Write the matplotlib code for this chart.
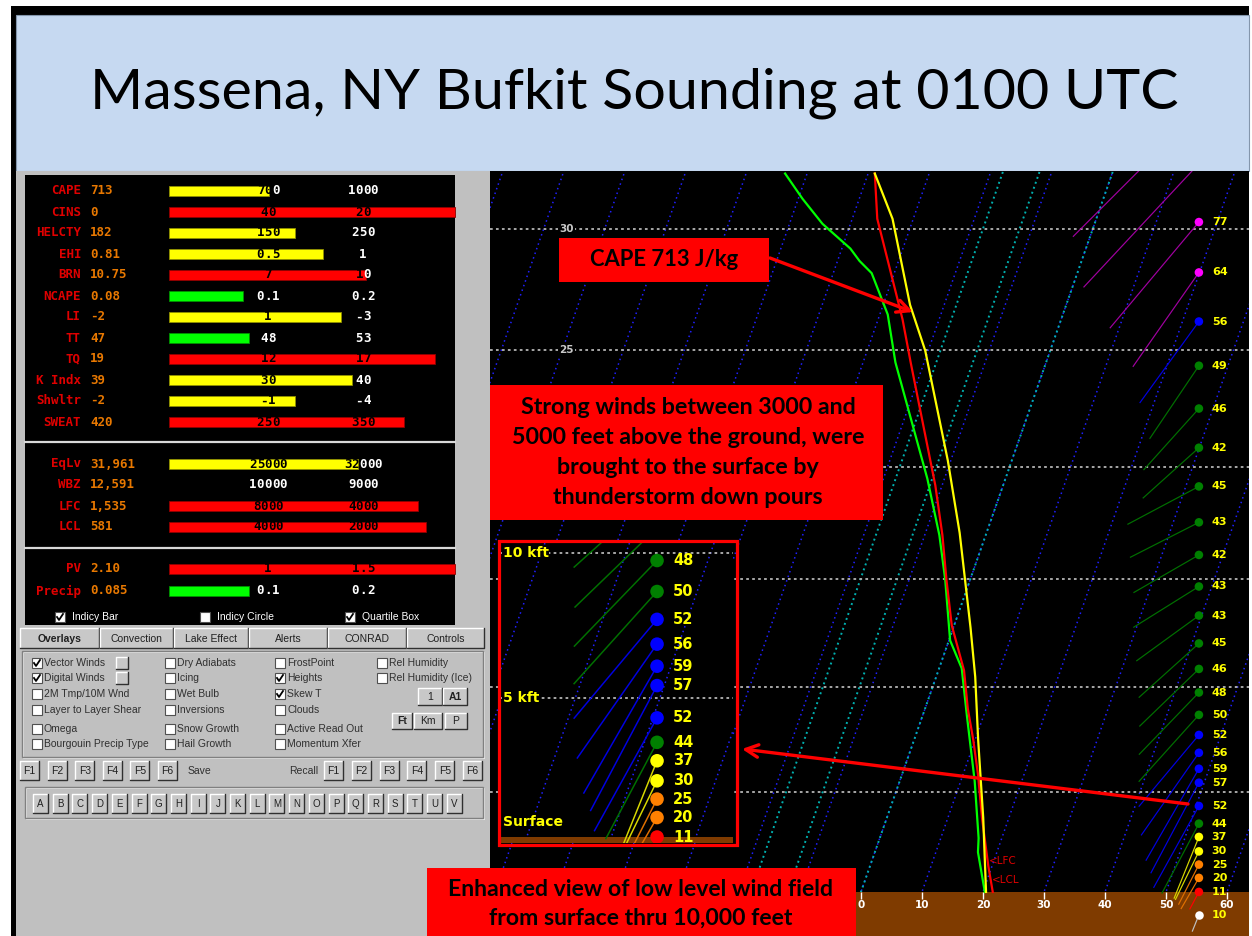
import numpy as np
import matplotlib
matplotlib.use('Agg')
import matplotlib.pyplot as plt
from matplotlib.patches import Rectangle
from matplotlib.transforms import blended_transform_factory

# ---- sounding (height kft AGL, deg C) ----
temp_hgt = [0, 1.3, 3.7, 5.8, 7.5, 9.0, 10.8, 12.9, 15.0, 17.0, 19.2, 24.5, 26.3, 27.1, 30.4, 32.2]
temp_c = [21.6, 19.4, 15.6, 12.5, 9.7, 7.0, 4.2, -0.4, -3.9, -7.1, -11.1, -22.2, -26.0, -27.9, -35.9, -38.9]
dwpt_hgt = [0, 2.0, 2.7, 5.5, 8.7, 10.9, 12.2, 15.0, 17.0, 19.5, 24.5, 26.5, 28.2, 28.7, 29.2, 30.2, 31.2, 32.2]
dwpt_c = [20.3, 16.9, 16.2, 12.3, 7.2, 3.7, 0.2, -4.1, -7.6, -12.8, -24.7, -28.7, -33.7, -36.4, -38.6, -44.6, -49.3, -53.6]
parcel_hgt = [0, 3.7, 7.5, 10.5, 12.8, 17.1, 20.3, 25.0, 26.9, 30.4, 32.2]
parcel_c = [20.5, 15.8, 10.5, 6.4, 2.8, -4.4, -10.5, -20.5, -25.6, -33.4, -38.9]
lfc_ft = 1535
lcl_ft = 581

# ---- winds (kft, kt, deg) ----
wind_hgt = [34.65, 32.59, 30.27, 28.23, 26.21, 24.36, 22.54, 20.85, 19.16, 17.57, 16.11, 14.68, 13.35,
            12.06, 10.87, 9.76, 8.70, 7.74, 6.88, 6.11, 5.43, 4.29, 3.42, 2.76, 2.04, 1.38, 0.71, 0.0]
wind_spd = [99, 94, 77, 64, 56, 49, 46, 42, 45, 43, 42, 43, 43,
            45, 46, 48, 50, 52, 56, 59, 57, 52, 44, 37, 30, 25, 20, 11]
wind_dir = [225, 223, 220, 215, 216, 214, 222, 228, 242, 243, 240, 238, 234,
            228, 226, 224, 222, 220, 215, 210, 208, 209, 208, 202, 206, 207, 210, 208]
sfc_hgt = [-1.17]
sfc_spd = [10]
sfc_dir = [202]

height_lines = [5, 10, 15, 20, 25, 30]
temp_ticks = [0, 10, 20, 30, 40, 50, 60]
isotherms = list(range(-110, 70, 10))
dgz_isotherms = [-18, -12, 0]

# ---- indices panel ----
sec1_names = ['CAPE', 'CINS', 'HELCTY', 'EHI', 'BRN', 'NCAPE', 'LI', 'TT', 'TQ', 'K Indx', 'Shwltr', 'SWEAT']
sec1_vals = ['713', '0', '182', '0.81', '10.75', '0.08', '-2', '47', '19', '39', '-2', '420']
sec1_bars = [35, 100, 44, 54, 69, 26, 60, 28, 93, 64, 44, 82]
sec1_cols = ['y', 'r', 'y', 'y', 'r', 'g', 'y', 'g', 'r', 'y', 'y', 'r']
sec1_lo = ['700', '40', '150', '0.5', '7', '0.1', '1', '48', '12', '30', '-1', '250']
sec1_hi = ['1000', '20', '250', '1', '10', '0.2', '-3', '53', '17', '40', '-4', '350']

sec2_names = ['EqLv', 'WBZ', 'LFC', 'LCL']
sec2_vals = ['31,961', '12,591', '1,535', '581']
sec2_bars = [66, 0, 87, 90]
sec2_cols = ['y', 'r', 'r', 'r']
sec2_lo = ['25000', '10000', '8000', '4000']
sec2_hi = ['32000', '9000', '4000', '2000']

sec3_names = ['PV', 'Precip']
sec3_vals = ['2.10', '0.085']
sec3_bars = [100, 28]
sec3_cols = ['r', 'g']
sec3_lo = ['1', '0.1']
sec3_hi = ['1.5', '0.2']

tabs = ['Overlays', 'Convection', 'Lake Effect', 'Alerts', 'CONRAD', 'Controls']
opt_cols = [['Vector Winds', 'Digital Winds', '2M Tmp/10M Wnd', 'Layer to Layer Shear', 'Omega', 'Bourgouin Precip Type'],
            ['Dry Adiabats', 'Icing', 'Wet Bulb', 'Inversions', 'Snow Growth', 'Hail Growth'],
            ['FrostPoint', 'Heights', 'Skew T', 'Clouds', 'Active Read Out', 'Momentum Xfer'],
            ['Rel Humidity', 'Rel Humidity (Ice)']]
opt_checked = [[1, 1, 0, 0, 0, 0], [0, 0, 0, 0, 0, 0], [0, 1, 1, 0, 0, 0], [0, 0]]
letters = list('ABCDEFGHIJKLMNOPQRSTUV')

W, H = 1252, 936
SKEW = 31.3
BAR_X0, BAR_W = 169, 286
BAR_COL = {'y': '#ffff00', 'r': '#ff0000', 'g': '#00ff00'}
BAR_EDGE = {'y': '#909000', 'r': '#900000', 'g': '#009000'}
GROUND = '#7f3b00'
MONO_FS = 9
CW = 0.6021 * MONO_FS * 100 / 72  # advance of one monospace char in px


def hgt_to_y(h):
    h = np.asarray(h, dtype=float)
    return -5.25588 * np.log(np.clip(1 - h / 145.44, 1e-6, None))


def y_to_hgt(y):
    return 145.44 * (1 - np.exp(-np.asarray(y, dtype=float) / 5.25588))


def skew(t, h):
    return np.asarray(t, dtype=float) + SKEW * hgt_to_y(h)


def dot_col(s):
    if s <= 10: return 'white'
    if s < 20: return '#ff0000'
    if s < 30: return '#ff8000'
    if s < 40: return '#ffff00'
    if s <= 50: return '#008000'
    if s < 64: return '#0000ff'
    return '#ff00ff'


def line_col(s):
    if s <= 10: return '#c0c0c0'
    if s < 20: return '#ff0000'
    if s < 30: return '#e07000'
    if s < 40: return '#d8d800'
    if s <= 50: return '#007000'
    if s < 64: return '#0000e0'
    return '#a000a0'


fig = plt.figure(figsize=(W / 100, H / 100), dpi=100)
fig.patch.set_facecolor('white')


def fig_axes(x0, y0, x1, y1):
    return fig.add_axes([x0 / W, 1 - y1 / H, (x1 - x0) / W, (y1 - y0) / H])


def rect(ax, x0, y0, x1, y1, **kw):
    ax.add_patch(Rectangle((x0, y0), x1 - x0, y1 - y0, **kw))


bg = fig_axes(0, 0, W, H)
bg.set_xlim(0, W)
bg.set_ylim(H, 0)
bg.axis('off')
renderer = fig.canvas.get_renderer()


def fit(t, width):
    w = t.get_window_extent(renderer).width
    t.set_fontsize(t.get_fontsize() * width / w)


# frame + title
rect(bg, 11, 6, 1249, H, fc='black', ec='none')
rect(bg, 16, 15, 1249, 171, fc='#c6d9f1', ec='#8496ac', lw=0.8)
t = bg.text(634, 93, 'Massena, NY Bufkit Sounding at 0100 UTC', ha='center', va='center',
            family='Lato', fontsize=40, color='black')
fit(t, 1088)

# left gray panel
rect(bg, 16, 171, 490, H, fc='#c0c0c0', ec='none')
rect(bg, 25, 175, 455, 625, fc='black', ec='none')
for yy in (442, 548):
    bg.plot([25, 455], [yy, yy], color='#d8d8d8', lw=1.6)

mono = dict(family='DejaVu Sans Mono', fontweight='bold', fontsize=MONO_FS, va='center')


def bar_text(x, y, s, bar_end):
    # one glyph at a time so the part over the bar turns black
    x0 = x - len(s) * CW / 2
    for i, ch in enumerate(s):
        cx = x0 + (i + 0.5) * CW
        bg.text(cx, y, ch, ha='center', color='black' if cx < bar_end else 'white', zorder=3, **mono)


def index_rows(names, vals, bars, cols, lo, hi, ys):
    for i, y in enumerate(ys):
        bg.text(81, y, names[i], ha='right', color='#e00000', **mono)
        bg.text(90, y, vals[i], ha='left', color='#e87800', **mono)
        w = bars[i] / 100 * BAR_W
        if w > 0:
            bg.barh(y, w, left=BAR_X0, height=10, color=BAR_COL[cols[i]],
                    edgecolor=BAR_EDGE[cols[i]], linewidth=0.6, zorder=2)
        bar_text(268, y, lo[i], BAR_X0 + w)
        bar_text(363, y, hi[i], BAR_X0 + w)


index_rows(sec1_names, sec1_vals, sec1_bars, sec1_cols, sec1_lo, sec1_hi, 191 + 21 * np.arange(12))
index_rows(sec2_names, sec2_vals, sec2_bars, sec2_cols, sec2_lo, sec2_hi, 464 + 21 * np.arange(4))
index_rows(sec3_names, sec3_vals, sec3_bars, sec3_cols, sec3_lo, sec3_hi, [569, 591])

ui = dict(family='Liberation Sans', fontsize=7.5, va='center')


def checkbox(x, y, checked, size=10, fc='white'):
    rect(bg, x, y - size / 2, x + size, y + size / 2, fc=fc, ec='#505050', lw=0.8, zorder=3)
    if checked:
        bg.plot([x + 2, x + 4, x + 8], [y, y + 3, y - 3], color='black', lw=1.3, zorder=4)


for x, lab, c in ((55, 'Indicy Bar', 1), (200, 'Indicy Circle', 0), (345, 'Quartile Box', 1)):
    checkbox(x, 617, c)
    bg.text(x + 17, 617, lab, color='white', **ui)


def button(x0, y0, x1, y1, label='', bold=False, fs=7.5):
    rect(bg, x0, y0, x1, y1, fc='#c8c8c8', ec='none', zorder=3)
    bg.plot([x0, x0, x1], [y1, y0, y0], color='white', lw=1, zorder=4)
    bg.plot([x0, x1, x1], [y1, y1, y0], color='#303030', lw=1, zorder=4)
    if label:
        bg.text((x0 + x1) / 2, (y0 + y1) / 2 + 0.5, label, ha='center', color='#202020', zorder=5,
                fontweight='bold' if bold else 'normal', family='Liberation Sans', fontsize=fs, va='center')


tab_edges = [20, 100, 174, 249, 328, 407, 485]
for i, lab in enumerate(tabs):
    button(tab_edges[i], 628, tab_edges[i + 1] - 1, 648, lab, bold=(i == 0), fs=7.5)


def groupbox(x0, y0, x1, y1):
    rect(bg, x0, y0, x1, y1, fc='none', ec='#808080', lw=1, zorder=2)
    rect(bg, x0 + 1, y0 + 1, x1 + 1, y1 + 1, fc='none', ec='#f0f0f0', lw=0.6, zorder=1)


groupbox(22, 651, 483, 757)
col_x = [32, 165, 275, 377]
row_y = [663, 678, 694, 710, 729, 744]
for c, items in enumerate(opt_cols):
    for r, lab in enumerate(items):
        checkbox(col_x[c], row_y[r], opt_checked[c][r])
        bg.text(col_x[c] + 12, row_y[r], lab, color='#303030', **ui)
button(116, 657, 128, 669)
button(116, 672, 128, 684)
button(418, 688, 442, 705, '1')
button(443, 688, 467, 705, 'A1', bold=True)
button(392, 713, 412, 729, 'Ft', bold=True)
button(414, 713, 442, 729, 'Km')
button(445, 713, 467, 729, 'P')

for i in range(6):
    x0 = 20 + 27.6 * i
    button(x0, 761, x0 + 19, 780, 'F%d' % (i + 1))
    x1 = 324 + 27.8 * i
    button(x1, 761, x1 + 19, 780, 'F%d' % (i + 1))
bg.text(188, 771, 'Save', color='#303030', **ui)
bg.text(318, 771, 'Recall', ha='right', color='#303030', **ui)

groupbox(25, 787, 483, 818)
for i, l in enumerate(letters):
    x0 = 33 + 19.7 * i
    button(x0, 794, x0 + 15, 813, l, fs=7)


# ---- skew-T axes ----
def setup_skew(ax, xlim, ylim):
    ax.set_facecolor('black')
    ax.set_yscale('function', functions=(hgt_to_y, y_to_hgt))
    ax.set_xticks([])
    ax.set_yticks([])
    ax.tick_params(which='both', length=0, labelleft=False, labelbottom=False)
    for s in ax.spines.values():
        s.set_visible(False)
    hh = np.linspace(-3, 40, 50)
    for tt in isotherms:
        ax.plot(skew(tt, hh), hh, color='#2020ff', lw=1.1, ls=(0, (1, 2.2)), zorder=1)
    for tt in dgz_isotherms:
        ax.plot(skew(tt, hh), hh, color='#00b0b0', lw=1.4, ls=(0, (1, 1.7)), zorder=1)
    for h in height_lines:
        ax.axhline(h, color='#b4b4b4', lw=1.3, ls=(0, (1.5, 1.8)), zorder=1)
    ax.axhspan(-10, 0, color=GROUND, zorder=2, lw=0)
    ax.set_xlim(*xlim)
    ax.set_ylim(*ylim)


def draw_winds(ax, hgts, spds, dirs, dot_x, lab_x, px_per_kt, dot_s, lab_fs, lw):
    tr = blended_transform_factory(ax.transAxes, ax.transData)
    spds = np.asarray(spds, dtype=float)
    rad = np.radians(dirs)
    n = len(hgts)
    ax.quiver(np.full(n, dot_x), hgts, spds * np.sin(rad), spds * np.cos(rad),
              color=[line_col(s) for s in spds], angles='uv', scale_units='dots', scale=1 / px_per_kt,
              units='dots', width=lw, headwidth=0, headlength=0, headaxislength=0,
              pivot='tail', transform=tr, zorder=5)
    ax.scatter(np.full(n, dot_x), hgts, s=dot_s, c=[dot_col(s) for s in spds], transform=tr,
               zorder=6, linewidths=0)
    lo, hi = ax.get_ylim()
    for h, s in zip(hgts, spds):
        if lo <= h <= hi:
            ax.text(lab_x, h, '%d' % s, transform=tr, color='#ffff00', fontsize=lab_fs, fontweight='bold',
                    va='center', ha='left', clip_on=True, zorder=7)


main = fig_axes(490, 171, 1249, 936)
main.set_zorder(1)
setup_skew(main, (-60.8, 63.6), (-2.25, 32.3))
main.plot(skew(dwpt_c, dwpt_hgt), dwpt_hgt, color='#00ff00', lw=1.6, zorder=4)
main.plot(skew(temp_c, temp_hgt), temp_hgt, color='#ff0000', lw=1.6, zorder=4)
main.plot(skew(parcel_c, parcel_hgt), parcel_hgt, color='#ffff00', lw=1.6, zorder=4)
trm = blended_transform_factory(main.transAxes, main.transData)
for h in height_lines:
    main.text(0.101, h, str(h), transform=trm, color='#c8c8c8', fontsize=7.5, fontweight='bold',
              ha='center', va='center', zorder=3, bbox=dict(fc='black', ec='none', pad=1))
for tt in temp_ticks:
    main.plot(tt, 0, marker=3, ms=5, color='white', mew=1, zorder=3)
    main.annotate(str(tt), (tt, 0), xytext=(0, -13), textcoords='offset pixels', ha='center',
                  va='center', color='white', fontsize=7.5, fontweight='bold', zorder=3)
for ft, lab in ((lfc_ft, '<LFC'), (lcl_ft, '<LCL')):
    h = ft / 1000
    x = skew(np.interp(h, temp_hgt, temp_c), h)
    main.text(x + 0.2, h, lab, color='#e00000', fontsize=7.5, va='center', ha='left', zorder=4)
draw_winds(main, wind_hgt, wind_spd, wind_dir, 0.934, 0.951, 1.8, 38, 8, 1.2)
draw_winds(main, sfc_hgt, sfc_spd, sfc_dir, 0.934, 0.951, 1.8, 38, 8, 1.2)

# ---- enlarged low-level inset ----
ins = fig_axes(500, 542, 733, 843)
ins.set_zorder(2)
setup_skew(ins, (36.84, 64.39), (-0.218, 10.39))
ins.axvline(1.0, color='#c8c8c8', lw=2.5, zorder=8)
draw_winds(ins, wind_hgt, wind_spd, wind_dir, 0.674, 0.742, 1.8 * 1.386, 95, 10.5, 1.5)
tri = blended_transform_factory(ins.transAxes, ins.transData)
ykw = dict(color='#ffff00', fontsize=10, fontweight='bold', family='DejaVu Sans', va='center',
           ha='left', zorder=6)
ins.text(0.012, 10, '10 kft', transform=tri, bbox=dict(fc='black', ec='none', pad=0.5), **ykw)
ins.text(0.012, 5, '5 kft', transform=tri, bbox=dict(fc='black', ec='none', pad=0.5), **ykw)
ins.text(0.012, 0.07, 'Surface', transform=ins.transAxes, **ykw)

# ---- overlay annotations ----
ov = fig_axes(0, 0, W, H)
ov.set_xlim(0, W)
ov.set_ylim(H, 0)
ov.axis('off')
ov.set_zorder(10)
rect(ov, 498.5, 540.5, 736.5, 844.5, fc='none', ec='#ff0000', lw=2.3)

box_kw = dict(family='Lato', fontweight='bold', color='black', ha='center', va='center', fontsize=16)
rect(ov, 559, 238, 769, 282, fc='#ff0000', ec='none')
fit(ov.text(664, 260, 'CAPE 713 J/kg', **box_kw), 148)

rect(ov, 490, 385, 883, 520, fc='#ff0000', ec='none')
lines2 = ['Strong winds between 3000 and', '5000 feet above the ground, were',
          'brought to the surface by', 'thunderstorm down pours']
tl = [ov.text(688, y, s, **box_kw) for s, y in zip(lines2, [407, 437, 467, 497])]
fit(tl[1], 353)
for tx in tl:
    tx.set_fontsize(tl[1].get_fontsize())

rect(ov, 427, 868, 856, H, fc='#ff0000', ec='none')
tl3 = [ov.text(641, y, s, **box_kw) for s, y in
       zip(['Enhanced view of low level wind field', 'from surface thru 10,000 feet'], [890, 918])]
fit(tl3[0], 387)
tl3[1].set_fontsize(tl3[0].get_fontsize())

arrow = dict(arrowstyle='->,head_length=0.9,head_width=0.45', color='#ff0000', lw=2.4,
             shrinkA=0, shrinkB=0)
ov.annotate('', xy=(913, 312), xytext=(770, 258), arrowprops=arrow)
ov.annotate('', xy=(742, 749), xytext=(1188, 804), arrowprops=arrow)

fig.savefig('out.png', dpi=100, facecolor='white')
